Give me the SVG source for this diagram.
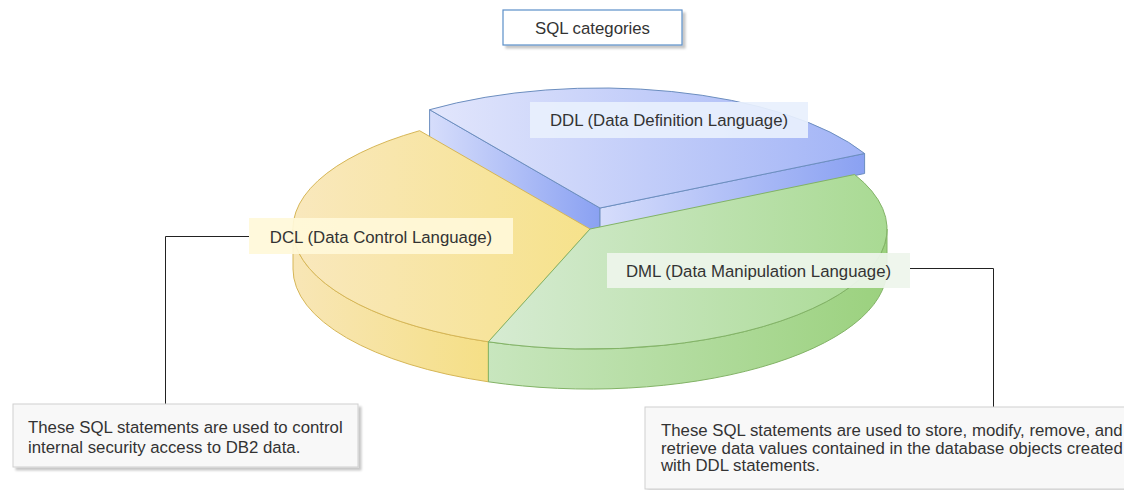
<svg xmlns="http://www.w3.org/2000/svg" width="1124" height="490" viewBox="0 0 1124 490">
  <defs>
    <style>
      text { font-family: "Liberation Sans", Arial, sans-serif; font-size: 16.8px; fill: #333333; }
      .mid { text-anchor: middle; }
      .ddl { stroke: #6c8ebf; stroke-width: 1; stroke-linejoin: round; }
      .dcl { stroke: #d6b656; stroke-width: 1; stroke-linejoin: round; }
      .dml { stroke: #82b366; stroke-width: 1; stroke-linejoin: round; }
      .wire { fill: none; stroke: #222222; stroke-width: 1; }
      .note { fill: #f8f8f8; stroke: #d0d0d0; stroke-width: 1; }
    </style>
    <filter id="shadow" x="-10%" y="-20%" width="130%" height="160%">
      <feDropShadow dx="3" dy="3" stdDeviation="1.2" flood-color="#000000" flood-opacity="0.22"/>
    </filter>
    <linearGradient id="gDdlTop" x1="0" y1="0" x2="1" y2="0">
      <stop offset="0" stop-color="#e2e6fc"/>
      <stop offset="1" stop-color="#a2b4f6"/>
    </linearGradient>
    <linearGradient id="gDdlSide" x1="0" y1="0" x2="1" y2="0">
      <stop offset="0" stop-color="#d6ddfb"/>
      <stop offset="1" stop-color="#8aa1f2"/>
    </linearGradient>
    <linearGradient id="gDclTop" x1="0" y1="0" x2="1" y2="0">
      <stop offset="0" stop-color="#f9e8bd"/>
      <stop offset="1" stop-color="#f6e28b"/>
    </linearGradient>
    <linearGradient id="gDclSide" x1="0" y1="0" x2="1" y2="0">
      <stop offset="0" stop-color="#f8e6b6"/>
      <stop offset="1" stop-color="#f5df86"/>
    </linearGradient>
    <linearGradient id="gDmlTop" x1="0" y1="0" x2="1" y2="0">
      <stop offset="0" stop-color="#d6ebd2"/>
      <stop offset="1" stop-color="#a9da93"/>
    </linearGradient>
    <linearGradient id="gDmlSide" x1="0" y1="0" x2="1" y2="0">
      <stop offset="0" stop-color="#c8e6be"/>
      <stop offset="1" stop-color="#9bd17e"/>
    </linearGradient>
  </defs>

  <!-- title -->
  <g id="title">
    <rect x="503" y="10" width="179" height="35" fill="#ffffff" stroke="#5b8fc9" stroke-width="1.2" filter="url(#shadow)"/>
    <text class="mid" x="592.5" y="34">SQL categories</text>
  </g>

  <!-- DDL slice: lifted, drawn first so the front slices overlap it -->
  <g id="slice-ddl">
    <path class="ddl" fill="url(#gDdlSide)" d="M429.6,109.7 L600,208 L600,248 L429.6,149.7 Z"/>
    <path class="ddl" fill="url(#gDdlSide)" d="M600,208 L864.6,153.5 L864.6,173.5 L600,228 Z"/>
    <path class="ddl" fill="url(#gDdlTop)" d="M600,208 L429.6,109.7 A297,120 0 0,1 864.6,153.5 Z"/>
  </g>

  <!-- DCL slice -->
  <g id="slice-dcl">
    <path class="dcl" fill="url(#gDclSide)" d="M488.4,341.8 A297,120 0 0,1 293,229 L293,269 A297,120 0 0,0 488.4,381.8 Z"/>
    <path class="dcl" fill="url(#gDclTop)" d="M590,229 L488.4,341.8 A297,120 0 0,1 419.6,130.7 Z"/>
  </g>

  <!-- DML slice -->
  <g id="slice-dml">
    <path class="dml" fill="url(#gDmlSide)" d="M887,229 A297,120 0 0,1 488.4,341.8 L488.4,381.8 A297,120 0 0,0 887,269 Z"/>
    <path class="dml" fill="url(#gDmlTop)" d="M590,229 L854.6,174.5 A297,120 0 0,1 488.4,341.8 Z"/>
  </g>

  <!-- connectors -->
  <g id="connectors">
    <path class="wire" d="M249,236.5 H165.5 V404"/>
    <path class="wire" d="M910,268.5 H993.5 V407"/>
  </g>

  <!-- slice labels -->
  <g id="label-ddl">
    <rect x="530" y="102" width="278" height="36" fill="#e8f0fd" fill-opacity="0.92"/>
    <text class="mid" x="669" y="126">DDL (Data Definition Language)</text>
  </g>
  <g id="label-dcl">
    <rect x="249" y="218" width="264" height="36" fill="#fff8d9" fill-opacity="0.92"/>
    <text class="mid" x="381" y="243">DCL (Data Control Language)</text>
  </g>
  <g id="label-dml">
    <rect x="607" y="253" width="303" height="35" fill="#eef5eb" fill-opacity="0.92"/>
    <text class="mid" x="758.5" y="277">DML (Data Manipulation Language)</text>
  </g>

  <!-- notes -->
  <g id="note-dcl">
    <rect class="note" x="13" y="404" width="345" height="63" filter="url(#shadow)"/>
    <text x="28" y="433">These SQL statements are used to control</text>
    <text x="28" y="453">internal security access to DB2 data.</text>
  </g>
  <g id="note-dml">
    <rect class="note" x="645" y="407" width="500" height="82" filter="url(#shadow)"/>
    <text x="661" y="436">These SQL statements are used to store, modify, remove, and</text>
    <text x="661" y="453.5">retrieve data values contained in the database objects created</text>
    <text x="661" y="471">with DDL statements.</text>
  </g>
</svg>
